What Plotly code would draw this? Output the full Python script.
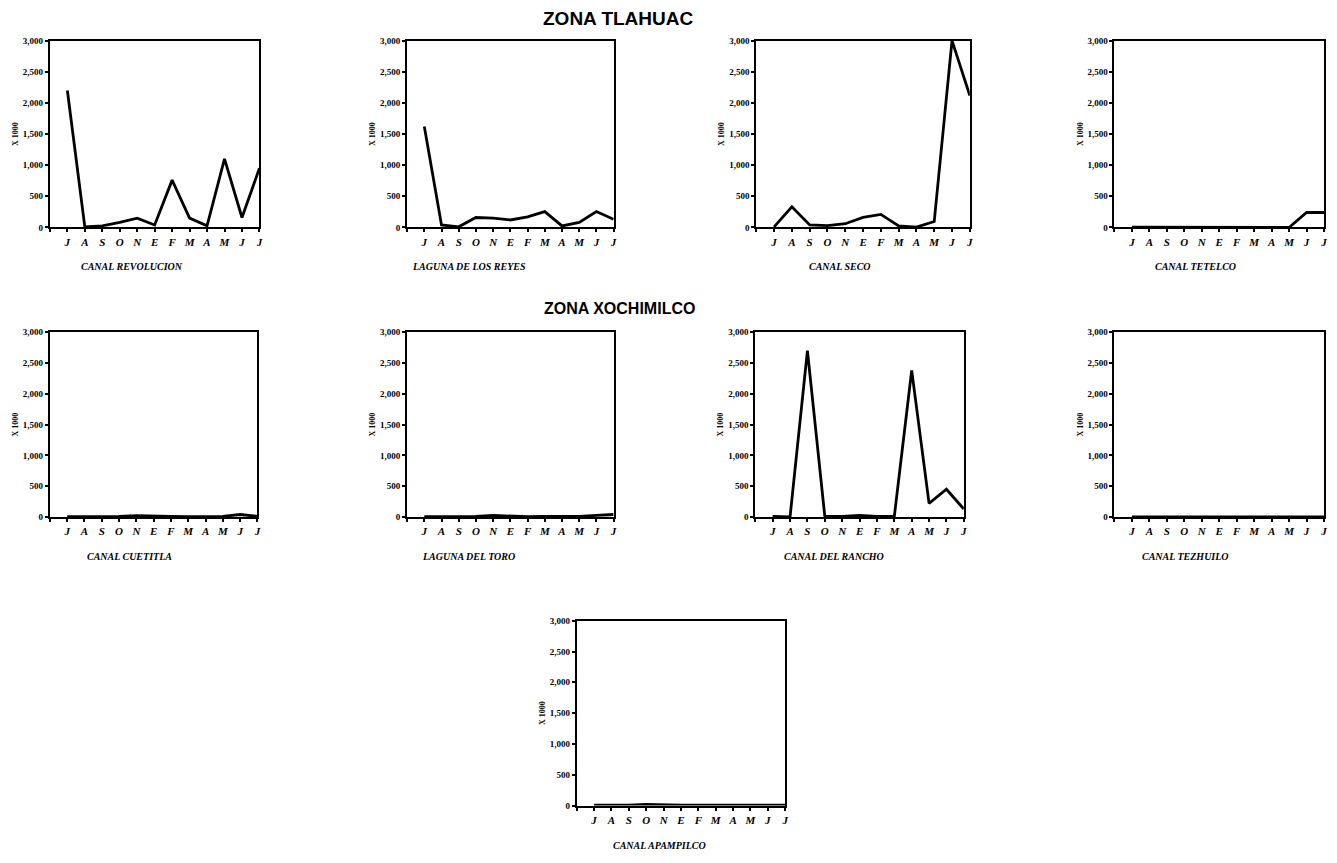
import plotly.graph_objects as go

# ---- data ----
months = ["J", "A", "S", "O", "N", "E", "F", "M", "A", "M", "J", "J"]
month_pos = list(range(1, 13))
y_ticks = [0, 500, 1000, 1500, 2000, 2500, 3000]
y_tick_text = ["0", "500", "1,000", "1,500", "2,000", "2,500", "3,000"]

canal_revolucion = [2200, 10, 25, 80, 150, 40, 760, 150, 25, 1100, 160, 950]
laguna_reyes = [1620, 40, 10, 160, 150, 120, 170, 255, 25, 80, 255, 130]
canal_seco = [10, 330, 40, 30, 60, 160, 210, 25, 5, 95, 3000, 2120]
canal_tetelco = [5, 5, 5, 5, 5, 5, 5, 5, 5, 0, 240, 240]
canal_cuetitla = [5, 5, 5, 10, 20, 20, 10, 5, 5, 10, 40, 10]
laguna_toro = [5, 5, 5, 10, 25, 10, 5, 10, 5, 10, 25, 40]
canal_rancho = [10, 0, 2700, 10, 10, 25, 10, 10, 2380, 220, 450, 130]
canal_tezhuilo = [0, 0, 0, 0, 0, 0, 0, 0, 0, 0, 0, 0]
canal_apampilco = [5, 5, 5, 20, 10, 5, 5, 5, 5, 15, 5, 5]

names = ["CANAL REVOLUCION", "LAGUNA DE LOS REYES", "CANAL SECO", "CANAL TETELCO",
         "CANAL CUETITLA", "LAGUNA DEL TORO", "CANAL DEL RANCHO", "CANAL TEZHUILO",
         "CANAL APAMPILCO"]
series = [canal_revolucion, laguna_reyes, canal_seco, canal_tetelco,
          canal_cuetitla, laguna_toro, canal_rancho, canal_tezhuilo, canal_apampilco]

# ---- layout (page pixel geometry; page has ~8px body margin) ----
PAGE_W, PAGE_H = 1337, 863
OFF_X, OFF_Y = 8, 10
W, H = PAGE_W - 16, PAGE_H - 16


def px(x):
    return (x - OFF_X) / W


def py(y):
    return 1 - (y - OFF_Y) / H


panels_px = [  # (x0, x1, y_top, y_bottom, caption_center_x)
    (50, 260, 38, 227, 132),
    (408, 615, 38, 227, 470),
    (758, 972, 38, 227, 842),
    (1117, 1327, 38, 227, 1198),
    (50, 258, 333, 520, 130),
    (408, 615, 333, 520, 470),
    (757, 966, 333, 520, 836),
    (1117, 1327, 333, 520, 1188),
    (578, 787, 625, 812, 661),
]

fig = go.Figure()
tick_font = dict(family="Liberation Serif", size=9, color="black", weight="bold")
xtick_font = dict(family="Liberation Serif", size=11, color="black", weight="bold", style="italic")

annotations = []
for i, (vals, name, (x0, x1, yt, yb, cx)) in enumerate(zip(series, names, panels_px)):
    k = "" if i == 0 else str(i + 1)
    fig.add_trace(go.Scatter(x=month_pos, y=vals, mode="lines",
                             line=dict(color="black", width=2.8),
                             xaxis="x" + k, yaxis="y" + k, showlegend=False,
                             hoverinfo="skip"))
    fig.layout["xaxis" + k] = dict(
        domain=[px(x0), px(x1)], anchor="y" + k, range=[0, 12],
        tickvals=list(range(0, 13)), ticktext=[""] + months,
        ticks="outside", ticklen=3, tickwidth=2, tickcolor="black",
        showline=True, linewidth=2, linecolor="black", mirror=True,
        showgrid=False, zeroline=False, tickfont=xtick_font, fixedrange=True)
    fig.layout["yaxis" + k] = dict(
        domain=[py(yb), py(yt)], anchor="x" + k, range=[0, 3000],
        tickvals=y_ticks, ticktext=y_tick_text,
        ticks="outside", ticklen=3, tickwidth=2, tickcolor="black",
        showline=True, linewidth=2, linecolor="black", mirror=True,
        showgrid=False, zeroline=False, tickfont=tick_font,
        title=dict(text="X 1000", font=dict(family="Liberation Serif", size=8,
                                             color="black", weight="bold"),
                   standoff=3),
        fixedrange=True)
    annotations.append(dict(
        text="<b><i>" + name + "</i></b>", x=px(cx), y=py(yb + 40),
        xref="paper", yref="paper", showarrow=False, xanchor="center",
        yanchor="middle",
        font=dict(family="Liberation Serif", size=10, color="black")))

annotations.append(dict(text="<b>ZONA TLAHUAC</b>", x=px(619), y=py(16),
                        xref="paper", yref="paper", showarrow=False,
                        xanchor="center", yanchor="middle",
                        font=dict(family="Liberation Sans", size=19, color="black")))
annotations.append(dict(text="<b>ZONA XOCHIMILCO</b>", x=px(621), y=py(309),
                        xref="paper", yref="paper", showarrow=False,
                        xanchor="center", yanchor="middle",
                        font=dict(family="Liberation Sans", size=16, color="black")))

fig.update_layout(width=W, height=H, margin=dict(l=0, r=0, t=0, b=0),
                  paper_bgcolor="white", plot_bgcolor="white",
                  annotations=annotations)

fig.write_html("out.html")
